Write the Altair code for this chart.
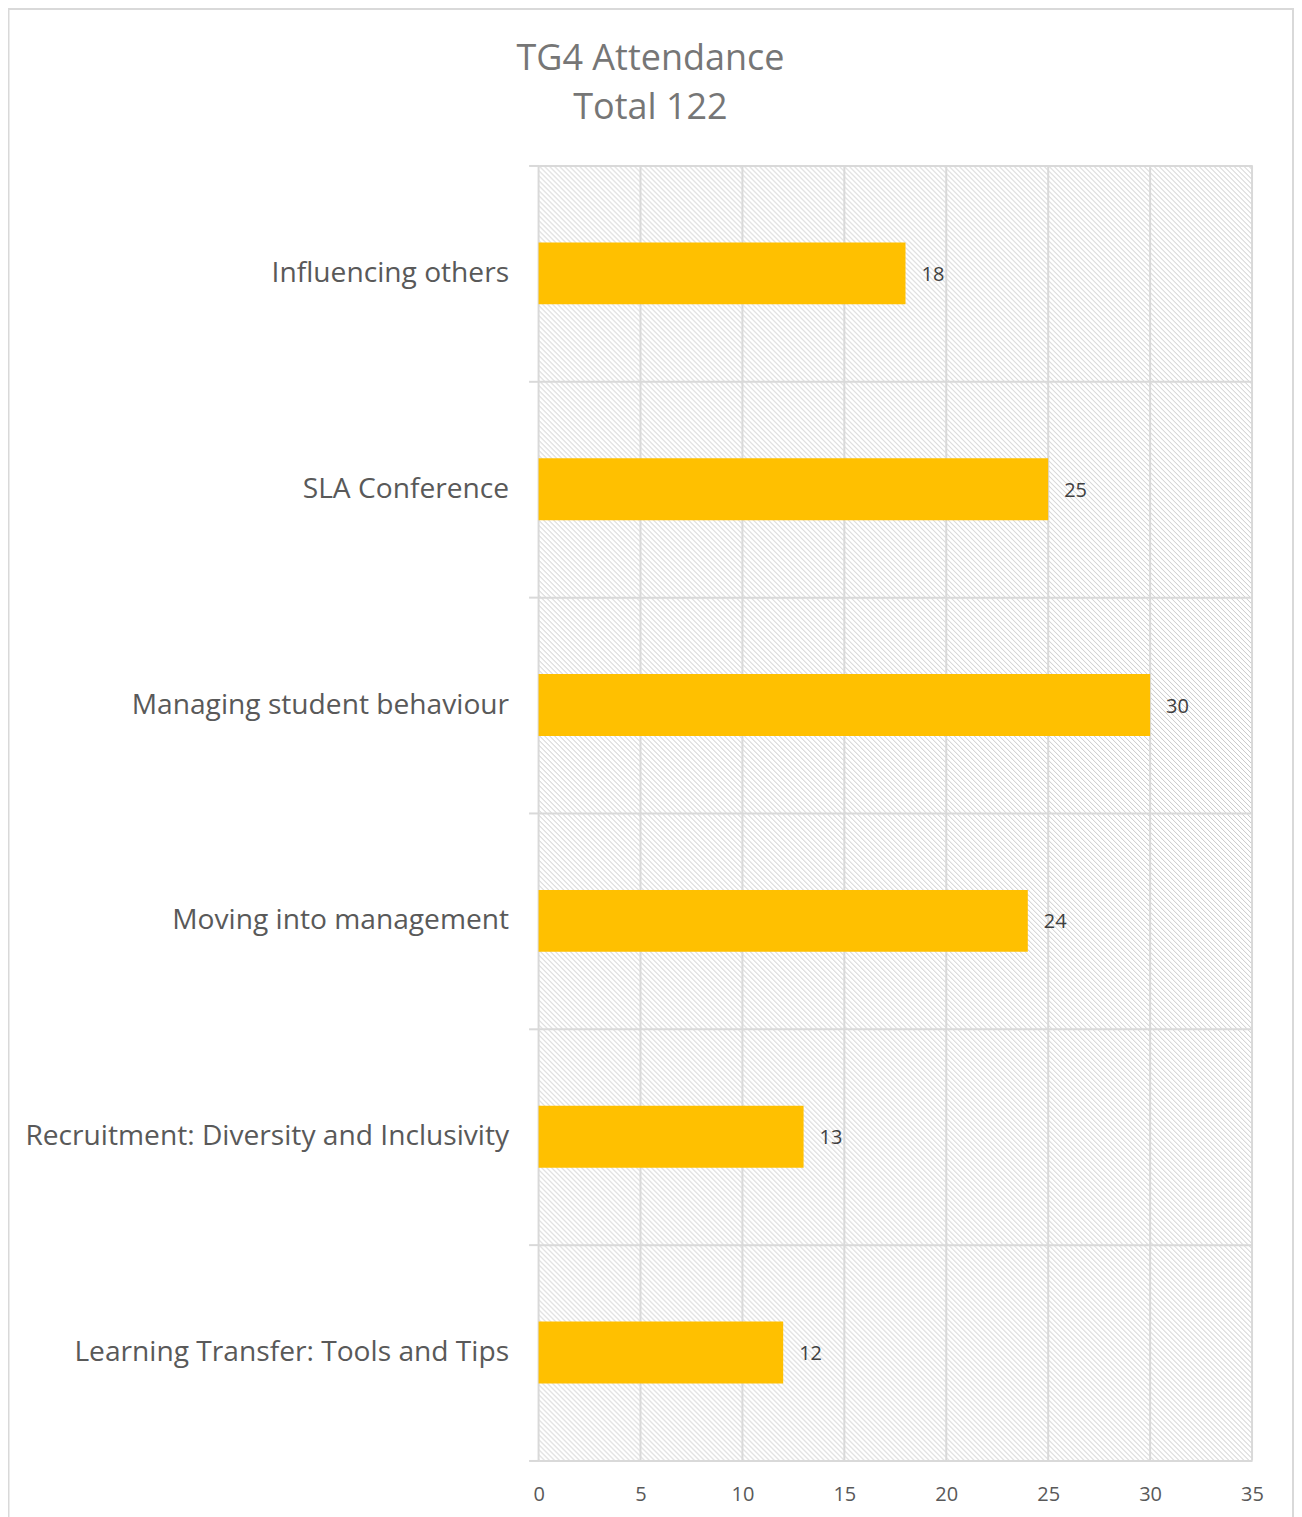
import altair as alt
import pandas as pd
from urllib.parse import quote

categories = [
    "Influencing others",
    "SLA Conference",
    "Managing student behaviour",
    "Moving into management",
    "Recruitment: Diversity and Inclusivity",
    "Learning Transfer: Tools and Tips",
]
attendance = [18, 25, 30, 24, 13, 12]
x_ticks = [0, 5, 10, 15, 20, 25, 30, 35]
title_lines = ["TG4 Attendance", "Total 122"]

W, H = 714, 1296
FONT = "Open Sans"
GRID = "#d9d9d9"

df = pd.DataFrame({"session": categories, "count": attendance})
grid_df = pd.DataFrame({"count": x_ticks})
one = alt.Data(values=[{"k": 1}])

svg = (
    f"<svg xmlns='http://www.w3.org/2000/svg' width='{W}' height='{H}'>"
    "<defs><pattern id='p' width='5' height='5' patternUnits='userSpaceOnUse'>"
    "<path d='M-1,-1 L6,6 M-1,4 L1,6 M4,-1 L6,1' stroke='#c8c8c8' stroke-width='1'/>"
    "</pattern></defs><rect width='100%' height='100%' fill='url(#p)'/></svg>"
)
uri = "data:image/svg+xml;charset=utf-8," + quote(svg)

xscale = alt.Scale(domain=[0, 35], nice=False, zero=True)

y_enc = alt.Y(
    "session:N",
    sort=categories,
    scale=alt.Scale(paddingInner=0, paddingOuter=0),
    axis=alt.Axis(
        title=None,
        tickBand="extent",
        grid=True,
        gridColor=GRID,
        gridWidth=2,
        domain=False,
        ticks=True,
        tickSize=10,
        tickColor=GRID,
        tickWidth=2,
        labelFont=FONT,
        labelFontSize=28.2,
        labelColor="#595959",
        labelPadding=20,
        labelLimit=800,
        zindex=1,
    ),
)

x_axis = alt.Axis(
    title=None,
    values=x_ticks,
    grid=False,
    ticks=False,
    domain=False,
    labelFont=FONT,
    labelFontSize=20,
    labelColor="#595959",
    labelPadding=24,
    labelFlush=False,
    labelOverlap=False,
)

hatch = alt.Chart(one).mark_image(
    width=W, height=H, align="left", baseline="top", aspect=False
).encode(x=alt.value(0), y=alt.value(0), url=alt.value(uri))

vgrid = alt.Chart(grid_df).mark_rule(color=GRID, strokeWidth=2).encode(
    x=alt.X("count:Q", scale=xscale, axis=x_axis)
)

bars = alt.Chart(df).mark_bar(size=62, color="#FFC000").encode(
    x=alt.X("count:Q", scale=xscale, axis=x_axis),
    y=y_enc,
)

labels = alt.Chart(df).mark_text(
    align="left", baseline="middle", dx=16, dy=1.5, font=FONT, fontSize=20, color="#404040"
).encode(
    x=alt.X("count:Q", scale=xscale, axis=x_axis),
    y=y_enc,
    text="count:Q",
)

border = alt.Chart(one).mark_rect(
    filled=False, stroke=GRID, strokeWidth=2
).encode(
    x=alt.value(-530.5), x2=alt.value(755), y=alt.value(-156.5), y2=alt.value(H + 100)
)

title = alt.Chart(one).mark_text(
    font=FONT, fontSize=36, color="#767676", align="center",
    baseline="alphabetic", lineHeight=50,
).encode(x=alt.value(112), y=alt.value(-96), text=alt.value(title_lines))

chart = alt.layer(hatch, vgrid, bars, labels, border, title).properties(
    width=W,
    height=H,
    autosize="none",
    padding={"left": 531, "top": 157, "right": 42, "bottom": 60},
    background="white",
).configure_view(stroke=None)

chart.save("out.html", embed_options={"renderer": "svg", "actions": False})
